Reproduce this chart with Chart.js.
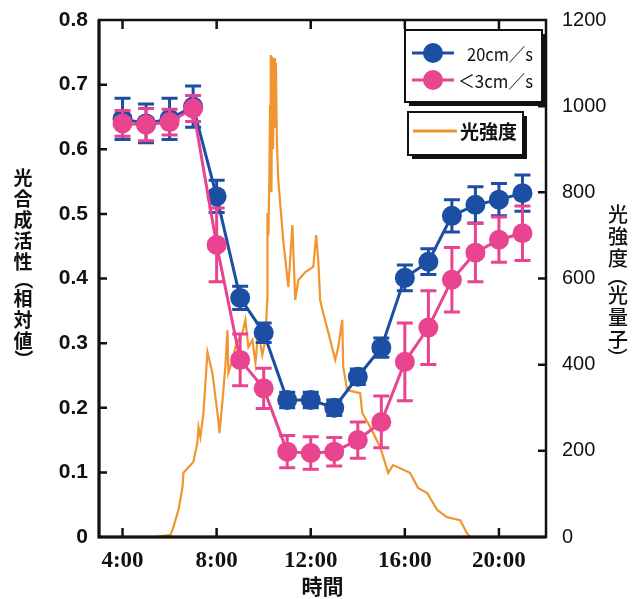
<!DOCTYPE html>
<html>
<head>
<meta charset="utf-8">
<script src="https://cdn.jsdelivr.net/npm/chart.js@4/dist/chart.umd.min.js"></script>
<style>
  html, body { margin: 0; padding: 0; background: #fff; }
  #wrap { width: 642px; height: 599px; }
</style>
</head>
<body>
<div id="wrap"><canvas id="c" width="642" height="599"></canvas></div>
<script>
// hourly measurements
var hours = [4, 5, 6, 7, 8, 9, 10, 11, 12, 13, 14, 15, 16, 17, 18, 19, 20, 21];
var fastVals = [0.647, 0.640, 0.647, 0.666, 0.527, 0.370, 0.316, 0.212, 0.212, 0.200, 0.248, 0.293, 0.401, 0.426, 0.497, 0.514, 0.522, 0.532];
var fastErr  = [0.032, 0.030, 0.032, 0.032, 0.025, 0.018, 0.015, 0.012, 0.012, 0.012, 0.012, 0.015, 0.020, 0.020, 0.025, 0.028, 0.025, 0.028];
var slowVals = [0.640, 0.638, 0.642, 0.663, 0.452, 0.274, 0.230, 0.132, 0.130, 0.132, 0.150, 0.178, 0.271, 0.324, 0.398, 0.440, 0.460, 0.470];
var slowErr  = [0.020, 0.025, 0.020, 0.020, 0.057, 0.040, 0.031, 0.025, 0.025, 0.022, 0.028, 0.040, 0.060, 0.057, 0.050, 0.045, 0.035, 0.042];

// light intensity trace
var lightHours = [5.40, 6.04, 6.16, 6.38, 6.55, 6.59, 7.01, 7.18, 7.23, 7.31, 7.44, 7.61, 7.82, 8.07, 8.12, 8.24, 8.37, 8.46, 8.50, 8.67,
                  8.80, 8.92, 9.09, 9.22, 9.35, 9.52, 9.65, 9.77, 9.94, 10.07, 10.15, 10.16, 10.20, 10.24, 10.27, 10.30, 10.33, 10.36, 10.40, 10.44,
                  10.48, 10.52, 10.56, 10.62, 10.83, 11.05, 11.22, 11.34, 11.47, 11.77, 12.11, 12.23, 12.32, 12.40, 12.53, 12.83, 13.04, 13.17, 13.34, 13.38,
                  13.55, 14.10, 14.19, 14.53, 14.95, 15.29, 15.50, 16.22, 16.56, 16.95, 17.37, 17.79, 18.35, 18.64, 18.77];
var lightVals  = [0, 5, 23, 63, 116, 149, 174, 218, 255, 232, 288, 429, 381, 272, 241, 311, 395, 480, 381, 411,
                  441, 457, 473, 504, 441, 457, 404, 480, 422, 457, 550, 752, 700, 829, 1000, 1119, 800, 1115, 900, 1112,
                  950, 1100, 921, 829, 689, 580, 724, 550, 596, 615, 627, 701, 643, 550, 520, 457, 411, 441, 504, 395,
                  341, 334, 288, 255, 209, 149, 167, 149, 114, 102, 63, 46, 39, 9, 0];

var xTickHours = [4, 8, 12, 16, 20];
var xTickLabels = ['4:00', '8:00', '12:00', '16:00', '20:00'];

var fastLabel = '20cm／s';
var slowLabel = '＜3cm／s';
var lightLabel = '光強度';
var leftTitle = '光合成活性（相対値）';
var rightTitle = '光強度（光量子）';
var xTitle = '時間';

var blue = '#1c4ea3';
var pink = '#e8448f';
var orange = '#f0952f';

function toPoints(xs, ys) {
    var pts = [];
    for (let i = 0; i < xs.length; i++) {
        pts.push({x: xs[i], y: ys[i]});
    }
    return pts;
}

// error bars, drawn just before each dataset so the markers sit on top
var errorBars = {
    id: 'errorBars',
    beforeDatasetDraw(chart, args) {
        var ds = chart.data.datasets[args.index];
        if (!ds.errBars) return;
        var ctx = chart.ctx;
        var ys = chart.scales[ds.yAxisID];
        var xs = chart.scales.x;
        ctx.save();
        ctx.strokeStyle = ds.borderColor;
        ctx.lineWidth = 3;
        for (let i = 0; i < ds.data.length; i++) {
            var px = xs.getPixelForValue(ds.data[i].x);
            var top = ys.getPixelForValue(ds.data[i].y + ds.errBars[i]);
            var bot = ys.getPixelForValue(ds.data[i].y - ds.errBars[i]);
            ctx.beginPath();
            ctx.moveTo(px, top); ctx.lineTo(px, bot);
            ctx.moveTo(px - 8, top); ctx.lineTo(px + 8, top);
            ctx.moveTo(px - 8, bot); ctx.lineTo(px + 8, bot);
            ctx.stroke();
        }
        ctx.restore();
    }
};

function drawVertical(ctx, text, cx, y, font, step, bracketStep) {
    ctx.save();
    ctx.font = font;
    ctx.fillStyle = '#111';
    ctx.textAlign = 'center';
    ctx.textBaseline = 'middle';
    for (let ch of text) {
        var isBracket = (ch === '（' || ch === '）');
        var s = isBracket ? bracketStep : step;
        var cy = y + s / 2;
        if (isBracket) {
            ctx.save();
            ctx.translate(cx, cy);
            ctx.rotate(Math.PI / 2);
            ctx.fillText(ch, 0, 0);
            ctx.restore();
        } else {
            ctx.fillText(ch, cx, cy);
        }
        y += s;
    }
    ctx.restore();
}

function shadowBox(ctx, x, y, w, h) {
    ctx.fillStyle = '#111';
    ctx.fillRect(x + 4, y + 4, w, h);
    ctx.fillStyle = '#fff';
    ctx.fillRect(x, y, w, h);
    ctx.strokeStyle = '#111';
    ctx.lineWidth = 2;
    ctx.strokeRect(x, y, w, h);
}

// frame, inward ticks, vertical titles and the two legend boxes
var decorations = {
    id: 'decorations',
    afterDraw(chart) {
        var ctx = chart.ctx;
        var a = chart.chartArea;
        var sx = chart.scales.x, sy = chart.scales.y, sy2 = chart.scales.y2;
        ctx.save();
        ctx.strokeStyle = '#111';
        ctx.lineWidth = 2.5;
        ctx.strokeRect(a.left, a.top, a.right - a.left, a.bottom - a.top);
        ctx.lineWidth = 3;
        ctx.beginPath();
        ctx.moveTo(a.left, a.top); ctx.lineTo(a.left, a.bottom); ctx.lineTo(a.right, a.bottom);
        ctx.stroke();

        ctx.lineWidth = 2.5;
        ctx.beginPath();
        sy.ticks.forEach(function(t) {
            if (t.value <= sy.min || t.value >= sy.max) return;
            var py = sy.getPixelForValue(t.value);
            ctx.moveTo(a.left, py); ctx.lineTo(a.left + 8, py);
        });
        sy2.ticks.forEach(function(t) {
            if (t.value <= sy2.min || t.value >= sy2.max) return;
            var py = sy2.getPixelForValue(t.value);
            ctx.moveTo(a.right, py); ctx.lineTo(a.right - 8, py);
        });
        sx.ticks.forEach(function(t) {
            var px = sx.getPixelForValue(t.value);
            ctx.moveTo(px, a.bottom); ctx.lineTo(px, a.bottom - 9);
            ctx.moveTo(px, a.top); ctx.lineTo(px, a.top + 9);
        });
        ctx.stroke();
        ctx.restore();

        drawVertical(ctx, leftTitle, 23, 167, 'bold 19px "Noto Sans CJK JP"', 21, 16);
        drawVertical(ctx, rightTitle, 618, 203, '500 20px "Noto Sans CJK JP"', 22, 15);

        // legends
        var ds = chart.data.datasets;
        ctx.save();
        shadowBox(ctx, 405, 30, 137, 72);
        var rows = [[ds[0], 53, 467, 66], [ds[1], 80, 458, 75]];
        rows.forEach(function(r) {
            ctx.strokeStyle = r[0].borderColor;
            ctx.fillStyle = r[0].borderColor;
            ctx.lineWidth = 3;
            ctx.beginPath();
            ctx.moveTo(412, r[1]); ctx.lineTo(454, r[1]);
            ctx.stroke();
            ctx.beginPath();
            ctx.arc(433, r[1], 10, 0, Math.PI * 2);
            ctx.fill();
            ctx.fillStyle = '#111';
            ctx.font = '18px "Noto Sans CJK JP"';
            ctx.textBaseline = 'middle';
            ctx.fillText(r[0].label, r[2], r[1] + 1, r[3]);
        });
        shadowBox(ctx, 408, 112, 115, 43);
        ctx.strokeStyle = ds[2].borderColor;
        ctx.lineWidth = 3;
        ctx.beginPath();
        ctx.moveTo(413, 131); ctx.lineTo(457, 131);
        ctx.stroke();
        ctx.fillStyle = '#111';
        ctx.font = 'bold 19px "Noto Sans CJK JP"';
        ctx.textBaseline = 'middle';
        ctx.fillText(ds[2].label, 460, 132, 57);
        ctx.restore();
    }
};

function fitY(width) {
    return function(scale) {
        scale.width = width;
        scale.paddingTop = 0;
        scale.paddingBottom = 0;
    };
}

new Chart(document.getElementById('c'), {
    type: 'line',
    data: {
        datasets: [
            {
                label: fastLabel,
                data: toPoints(hours, fastVals),
                errBars: fastErr,
                yAxisID: 'y',
                borderColor: blue,
                backgroundColor: blue,
                borderWidth: 3,
                pointRadius: 10,
                pointBorderWidth: 0,
                order: 1
            },
            {
                label: slowLabel,
                data: toPoints(hours, slowVals),
                errBars: slowErr,
                yAxisID: 'y',
                borderColor: pink,
                backgroundColor: pink,
                borderWidth: 3,
                pointRadius: 10,
                pointBorderWidth: 0,
                order: 0
            },
            {
                label: lightLabel,
                data: toPoints(lightHours, lightVals),
                yAxisID: 'y2',
                borderColor: orange,
                backgroundColor: orange,
                borderWidth: 2.2,
                pointRadius: 0,
                order: 2
            }
        ]
    },
    options: {
        responsive: false,
        animation: false,
        events: [],
        layout: { padding: { top: 20, left: 0, right: 0, bottom: 0 } },
        plugins: { legend: { display: false }, tooltip: { enabled: false } },
        scales: {
            x: {
                type: 'linear',
                min: 3,
                max: 22,
                afterBuildTicks: function(scale) {
                    scale.ticks = xTickHours.map(function(h) { return {value: h}; });
                },
                afterFit: function(scale) {
                    scale.height = 62;
                    scale.paddingLeft = 0;
                    scale.paddingRight = 0;
                },
                grid: { display: false, drawTicks: false },
                border: { display: false },
                ticks: {
                    padding: 10,
                    color: '#111',
                    font: { family: '"Liberation Serif"', size: 23, weight: 'bold' },
                    callback: function(v) { return xTickLabels[xTickHours.indexOf(v)]; }
                },
                title: {
                    display: true,
                    text: xTitle,
                    color: '#111',
                    padding: { top: 0, bottom: 0 },
                    font: { family: '"Noto Sans CJK JP"', size: 21, weight: 'bold' }
                }
            },
            y: {
                position: 'left',
                min: 0,
                max: 0.8,
                afterFit: fitY(99),
                grid: { display: false, drawTicks: false },
                border: { display: false },
                ticks: {
                    stepSize: 0.1,
                    padding: 11,
                    color: '#111',
                    font: { family: '"Liberation Sans"', size: 21, weight: 'bold' },
                    callback: function(v) { return v === 0 ? '0' : v.toFixed(1); }
                }
            },
            y2: {
                position: 'right',
                min: 0,
                max: 1200,
                afterFit: fitY(96),
                grid: { display: false, drawTicks: false },
                border: { display: false },
                ticks: {
                    stepSize: 200,
                    padding: 16,
                    color: '#111',
                    font: { family: '"Liberation Sans"', size: 20 },
                    callback: function(v) { return String(v); }
                }
            }
        }
    },
    plugins: [errorBars, decorations]
});
</script>
</body>
</html>
